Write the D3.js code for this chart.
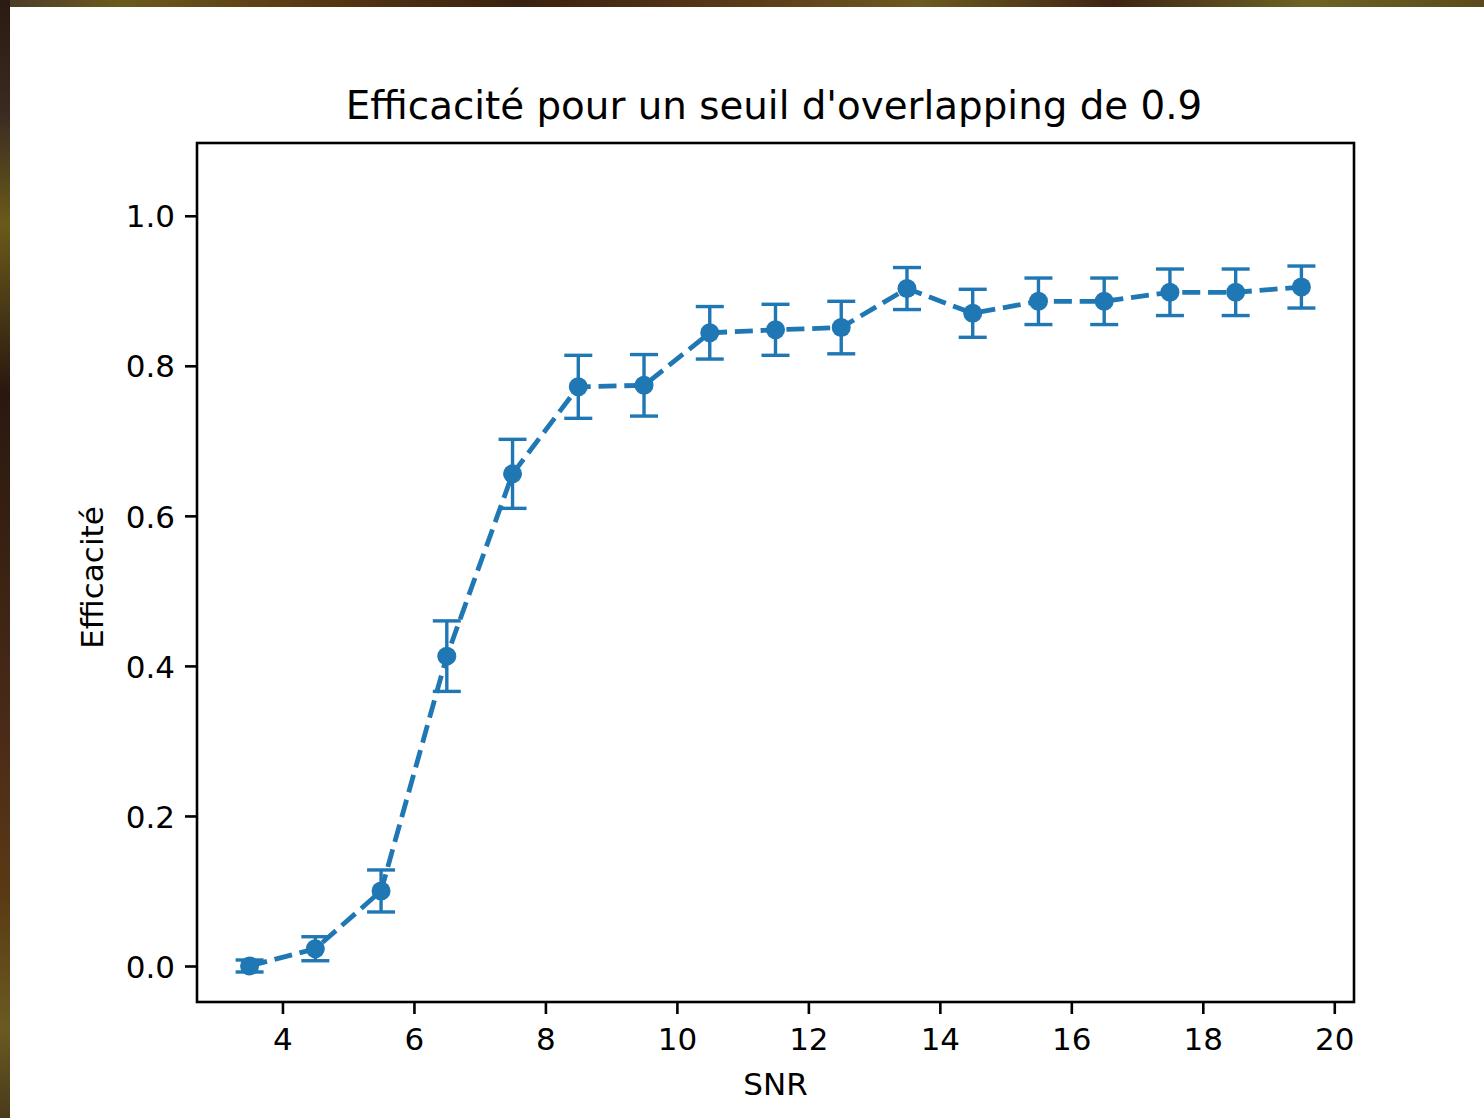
<!DOCTYPE html>
<html><head><meta charset="utf-8">
<script src="https://cdn.jsdelivr.net/npm/d3@7"></script>
<style>html,body{margin:0;padding:0;background:#fff;}svg{display:block;}</style>
</head><body>
<script>
const snr = [3.5,4.5,5.5,6.5,7.5,8.5,9.5,10.5,11.5,12.5,13.5,14.5,15.5,16.5,17.5,18.5,19.5];
const efficacite = [0.000,0.023,0.100,0.413,0.656,0.772,0.774,0.844,0.848,0.851,0.903,0.870,0.886,0.886,0.898,0.898,0.905];
const erreur = [0.008,0.016,0.028,0.047,0.046,0.042,0.041,0.035,0.034,0.035,0.028,0.032,0.031,0.031,0.031,0.031,0.028];
const xTicks = [4,6,8,10,12,14,16,18,20];
const yTicks = [0.0,0.2,0.4,0.6,0.8,1.0];
const titre = "Efficacité pour un seuil d'overlapping de 0.9";
const xLabel = "SNR";
const yLabel = "Efficacité";

const W = 1484, H = 1118;
const L = 197, R = 1354, T = 143, B = 1002;
const color = "#1f77b4";
const font = "'DejaVu Sans', sans-serif";

const svg = d3.select("body").append("svg").attr("width", W).attr("height", H);

// background photo-like border strips
const defs = svg.append("defs");
const gTop = defs.append("linearGradient").attr("id","gtop");
[["0%","#4a3a2a"],["8%","#6b5a1e"],["20%","#5a3a14"],["35%","#3a2210"],["50%","#5a3a18"],["62%","#6d5a20"],["75%","#3e2412"],["88%","#6e6424"],["100%","#5a4a1a"]]
  .forEach(s=>gTop.append("stop").attr("offset",s[0]).attr("stop-color",s[1]));
const gLeft = defs.append("linearGradient").attr("id","gleft").attr("x1",0).attr("y1",0).attr("x2",0).attr("y2",1);
[["0%","#2a1a12"],["10%","#3a2a22"],["20%","#6a5a1a"],["35%","#2a1810"],["50%","#3a2212"],["65%","#4a2a18"],["80%","#5a3a14"],["92%","#6a5a22"],["100%","#4a3a1a"]]
  .forEach(s=>gLeft.append("stop").attr("offset",s[0]).attr("stop-color",s[1]));
svg.append("rect").attr("x",0).attr("y",0).attr("width",W).attr("height",7).attr("fill","url(#gtop)");
svg.append("rect").attr("x",0).attr("y",0).attr("width",10).attr("height",H).attr("fill","url(#gleft)");

const x = d3.scaleLinear().domain([2.7, 20.3]).range([L, R]);
const y = d3.scaleLinear().domain([-0.048, 1.097]).range([B, T]);

// axes
const xAxis = svg.append("g").attr("transform", `translate(0,${B})`)
  .call(d3.axisBottom(x).tickValues(xTicks).tickSize(12).tickPadding(8).tickFormat(d3.format("d")));
const yAxis = svg.append("g").attr("transform", `translate(${L},0)`)
  .call(d3.axisLeft(y).tickValues(yTicks).tickSize(12).tickPadding(10).tickFormat(d3.format(".1f")));
[xAxis, yAxis].forEach(a=>{
  a.select(".domain").remove();
  a.selectAll(".tick line").attr("stroke","#000").attr("stroke-width",2.6);
  a.selectAll(".tick text").attr("fill","#000").style("font-family",font).style("font-size","31px");
});
xAxis.selectAll(".tick text").attr("dy","0.9em");
yAxis.selectAll(".tick text").attr("dy","0.36em");

// line
const line = d3.line().x((d,i)=>x(snr[i])).y(d=>y(d));
svg.append("path").datum(efficacite).attr("d", line)
  .attr("fill","none").attr("stroke",color).attr("stroke-width",4.8)
  .attr("stroke-dasharray","18,7.8");

// error bars
const eb = svg.append("g").selectAll("g").data(efficacite).join("g");
eb.append("line").attr("x1",(d,i)=>x(snr[i])).attr("x2",(d,i)=>x(snr[i]))
  .attr("y1",(d,i)=>y(d-erreur[i])).attr("y2",(d,i)=>y(d+erreur[i]))
  .attr("stroke",color).attr("stroke-width",3.4);
[-1,1].forEach(s=>{
  eb.append("line").attr("x1",(d,i)=>x(snr[i])-14).attr("x2",(d,i)=>x(snr[i])+14)
    .attr("y1",(d,i)=>y(d+s*erreur[i])).attr("y2",(d,i)=>y(d+s*erreur[i]))
    .attr("stroke",color).attr("stroke-width",3.4);
});
eb.append("circle").attr("cx",(d,i)=>x(snr[i])).attr("cy",d=>y(d)).attr("r",9.5).attr("fill",color);

// frame
svg.append("rect").attr("x",L).attr("y",T).attr("width",R-L).attr("height",B-T)
  .attr("fill","none").attr("stroke","#000").attr("stroke-width",2.6);

// labels
svg.append("text").attr("x",774).attr("y",119).attr("text-anchor","middle")
  .style("font-family",font).style("font-size","38.8px").attr("fill","#000").text(titre);
svg.append("text").attr("x",(L+R)/2).attr("y",1095).attr("text-anchor","middle")
  .style("font-family",font).style("font-size","31px").attr("fill","#000").text(xLabel);
svg.append("text").attr("transform",`translate(103,${(T+B)/2 + 5}) rotate(-90)`).attr("text-anchor","middle")
  .style("font-family",font).style("font-size","31px").attr("fill","#000").text(yLabel);
</script>
</body></html>
